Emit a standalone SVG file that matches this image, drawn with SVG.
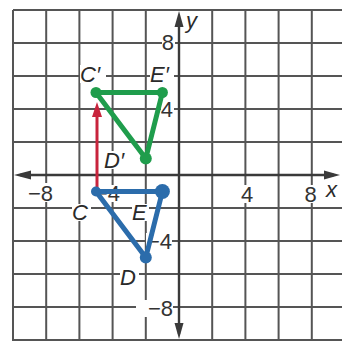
<svg xmlns="http://www.w3.org/2000/svg" width="342" height="341" viewBox="0 0 342 341">
<defs>
<style>
.grid{stroke:#555555;stroke-width:2;fill:none}
.axis{stroke:#3a3a3a;stroke-width:2.4;fill:none}
.num{font-family:"Liberation Sans Narrow","Liberation Sans",Arial,sans-serif;font-size:22px;fill:#333}
.pt{font-family:"Liberation Sans",Arial,sans-serif;font-style:italic;font-size:22px;fill:#2a2a2a}
.bg{fill:#ffffff}
.green{stroke:#1f9d4c;stroke-width:5;fill:none;stroke-linejoin:round}
.blue{stroke:#2b6cab;stroke-width:5;fill:none;stroke-linejoin:round}
</style>
</defs>
<rect x="0" y="0" width="342" height="341" fill="#ffffff"/>
<g id="grid">
<path class="grid" d="M13 10V341M46.2 10V341M79.4 10V341M112.6 10V341M145.8 10V341M212.2 10V341M245.4 10V341M278.6 10V341M311.8 10V341"/>
<path class="grid" d="M13 10H342M13 43H342M13 76H342M13 109H342M13 142H342M13 208H342M13 241H342M13 274H342M13 307H342M13 340H342"/>
</g>
<g id="axes">
<path class="axis" d="M20 175H334M179 18V334"/>
<polygon points="14,175 31,170.5 31,179.5" fill="#3a3a3a"/>
<polygon points="340,175 324,170.5 324,179.5" fill="#3a3a3a"/>
<polygon points="179,11 174.5,27 183.5,27" fill="#3a3a3a"/>
<polygon points="179,339 174.5,323 183.5,323" fill="#3a3a3a"/>
</g>
<g id="tick-labels">
<rect class="bg" x="162" y="34" width="13" height="17"/>
<text class="num" x="174" y="50" text-anchor="end">8</text>
<rect class="bg" x="161" y="101" width="13" height="17"/>
<text class="num" x="173" y="117" text-anchor="end">4</text>
<rect class="bg" x="146" y="233" width="26" height="17"/>
<text class="num" x="172" y="249" text-anchor="end">−4</text>
<rect class="bg" x="136" y="300" width="37" height="17"/>
<text class="num" x="173" y="316" text-anchor="end">−8</text>
<rect class="bg" x="17" y="183" width="37" height="19"/>
<text class="num" x="53" y="201" text-anchor="end">−8</text>
<rect class="bg" x="98" y="185" width="22" height="17"/>
<text class="num" x="120" y="201" text-anchor="end">−4</text>
<rect class="bg" x="240" y="185" width="14" height="18"/>
<text class="num" x="247" y="202" text-anchor="middle">4</text>
<rect class="bg" x="304" y="185" width="13" height="18"/>
<text class="num" x="310.5" y="202" text-anchor="middle">8</text>
<text class="pt" x="326" y="197">x</text>
<text class="pt" x="186" y="28">y</text>
</g>
<g id="translation-arrow">
<line x1="97" y1="190" x2="97" y2="112" stroke="#c8243c" stroke-width="3"/>
<polygon points="97,102 92,117 102,117" fill="#c8243c"/>
</g>
<g id="triangle-CDE">
<polygon class="blue" points="96,191.5 162.4,191.5 145.8,257.5"/>
<circle cx="96" cy="191.5" r="5" fill="#2b6cab"/>
<circle cx="162.4" cy="191.5" r="7.5" fill="#2b6cab"/>
<circle cx="145.8" cy="257.5" r="6" fill="#2b6cab"/>
</g>
<g id="triangle-CDE-prime">
<polygon class="green" points="96,92.5 162.4,92.5 145.8,158.5"/>
<circle cx="96" cy="92.5" r="5.5" fill="#1f9d4c"/>
<circle cx="162.4" cy="92.5" r="5.5" fill="#1f9d4c"/>
<circle cx="145.8" cy="158.5" r="6" fill="#1f9d4c"/>
</g>
<g id="point-labels">
<rect class="bg" x="80" y="65" width="26" height="18"/>
<text class="pt" x="80" y="82">C′</text>
<rect class="bg" x="150" y="65" width="24" height="18"/>
<text class="pt" x="150" y="82">E′</text>
<rect class="bg" x="104" y="151" width="25" height="18"/>
<text class="pt" x="104" y="168">D′</text>
<rect class="bg" x="72" y="204" width="19" height="17"/>
<text class="pt" x="72" y="220">C</text>
<rect class="bg" x="132" y="204" width="17" height="17"/>
<text class="pt" x="132" y="220">E</text>
<rect class="bg" x="120" y="269" width="19" height="17"/>
<text class="pt" x="120" y="285">D</text>
</g>
</svg>
